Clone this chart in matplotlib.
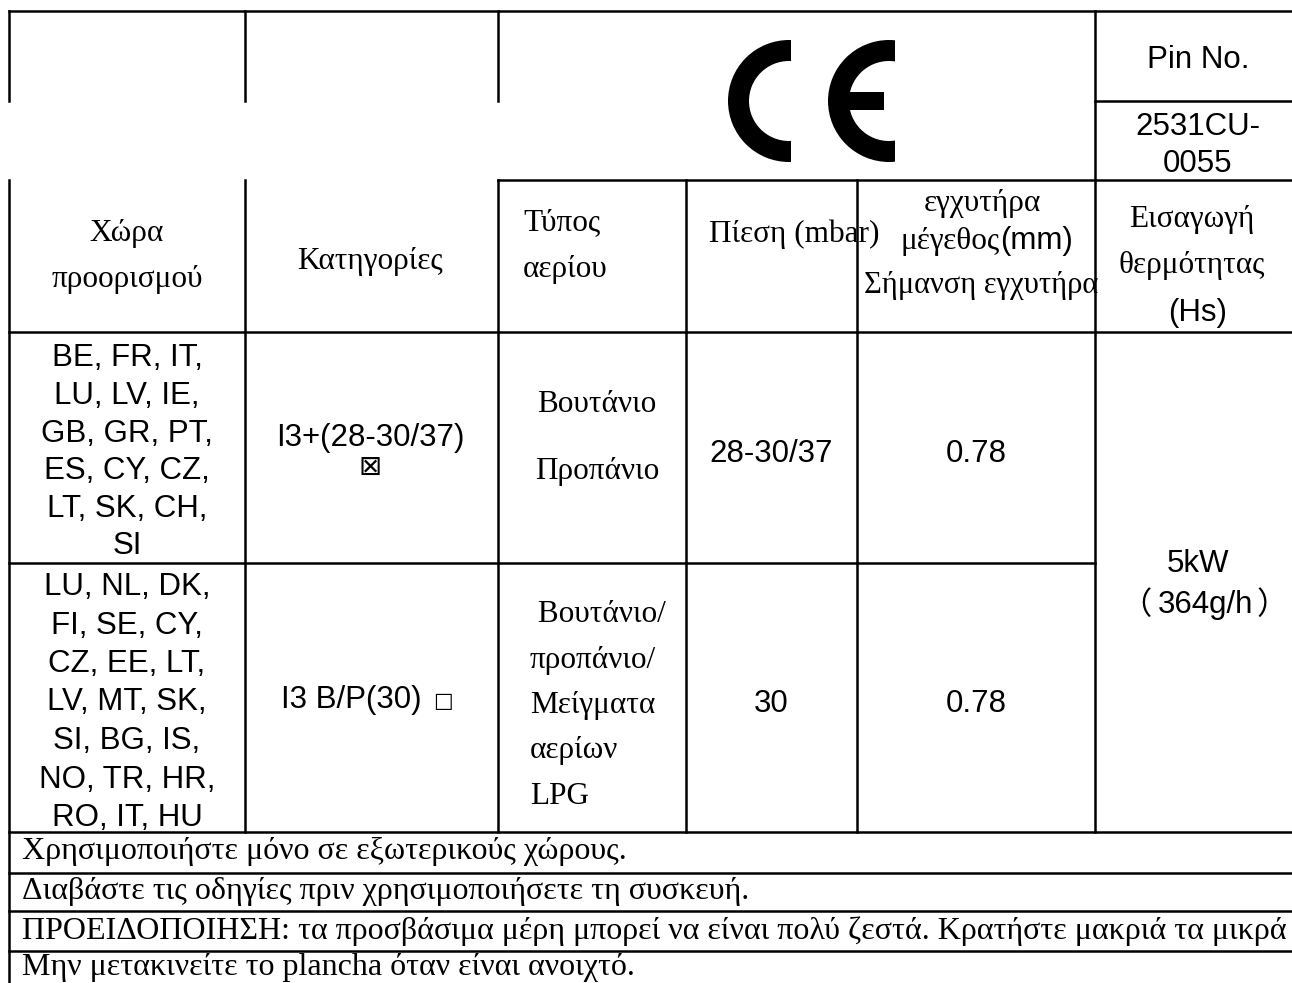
import matplotlib
matplotlib.use("Agg")
import matplotlib.pyplot as plt
from matplotlib.patches import Wedge, Rectangle

# table content
header_country = ["Χώρα", "προορισμού"]
header_category = "Κατηγορίες"
header_gas = ["Τύπος", "αερίου"]
header_pressure = "Πίεση (mbar)"
header_injector = ["εγχυτήρα", "μέγεθος", "(mm)", "Σήμανση εγχυτήρα"]
header_heat = ["Εισαγωγή", "θερμότητας", "(Hs)"]
pin_label = "Pin No."
pin_number = ["2531CU-", "0055"]

countries = [
    ["BE, FR, IT,", "LU, LV, IE,", "GB, GR, PT,", "ES, CY, CZ,", "LT, SK, CH,", "SI"],
    ["LU, NL, DK,", "FI, SE, CY,", "CZ, EE, LT,", "LV, MT, SK,", "SI, BG, IS,",
     "NO, TR, HR,", "RO, IT, HU"],
]
categories = ["I3+(28-30/37)", "I3 B/P(30)"]
category_marks = ["⊠", "□"]
gas_types = [["Βουτάνιο", "Προπάνιο"],
             [" Βουτάνιο/", "προπάνιο/", "Μείγματα", "αερίων", "LPG"]]
pressures = ["28-30/37", "30"]
injectors = ["0.78", "0.78"]
heat_power = "5kW"
heat_flow = "364g/h"

notes = [
    "Χρησιμοποιήστε μόνο σε εξωτερικούς χώρους.",
    "Διαβάστε τις οδηγίες πριν χρησιμοποιήσετε τη συσκευή.",
    "ΠΡΟΕΙΔΟΠΟΙΗΣΗ: τα προσβάσιμα μέρη μπορεί να είναι πολύ ζεστά. "
    "Κρατήστε μακριά τα μικρά παιδιά.",
    "Μην μετακινείτε το plancha όταν είναι ανοιχτό.",
]

SERIF = ["Liberation Serif", "DejaVu Serif"]
SANS = ["Liberation Sans", "Noto Sans CJK SC", "DejaVu Sans"]
CJK = ["Noto Sans CJK SC"]
MARKS = ["DejaVu Sans"]
FS = 22.5      # sans
FSS = 22.5     # serif (table)
FSN = 23       # serif (notes)
DY = 3         # baseline nudge

W, H = 1292, 983
fig = plt.figure(figsize=(W / 100, H / 100), dpi=100)
ax = fig.add_axes([0, 0, 1, 1])
ax.set_xlim(0, W)
ax.set_ylim(H, 0)
ax.axis("off")

# grid geometry (pixels)
cols = [9, 245, 498, 686, 857, 1095]
y_top, y_mid, y_hdr, y_row0, y_row1, y_row2 = 11, 101, 180, 332, 563, 832
note_lines = [873, 911, 951]
lw = 1.8


def hline(y, x0, x1):
    ax.plot([x0, x1], [y, y], color="black", lw=lw, solid_capstyle="projecting")


def vline(x, y0, y1):
    ax.plot([x, x], [y0, y1], color="black", lw=lw, solid_capstyle="projecting")


hline(y_top, cols[0], W)
hline(y_mid, cols[5], W)
hline(y_hdr, cols[2], W)
hline(y_row0, cols[0], W)
hline(y_row1, cols[0], cols[5])
hline(y_row2, cols[0], W)
for y in note_lines:
    hline(y, cols[0], W)

vline(cols[0], y_top, y_mid)
vline(cols[0], y_hdr, H)
for x in cols[1:3]:
    vline(x, y_top, y_mid)
    vline(x, y_hdr, y_row2)
for x in cols[3:5]:
    vline(x, y_hdr, y_row2)
vline(cols[5], y_top, y_row2)


def put(x, y, s, family, size=FS, ha="center"):
    ax.text(x, y + DY, s, family=family, fontsize=size, ha=ha, va="center")


def stack(x, y0, step, lines, family, ha="center", size=FS):
    for i, s in enumerate(lines):
        put(x, y0 + i * step, s, family, size, ha)


# CE mark
def ce_letter(cx, cy, r, w, cut):
    ring = Wedge((cx, cy), r, 0, 360, width=w, color="black", lw=0)
    ax.add_patch(ring)
    clip = Rectangle((cx - r - 5, cy - r - 5), cut - (cx - r - 5), 2 * r + 10,
                     transform=ax.transData)
    ring.set_clip_path(clip)


ce_letter(789, 101, 61, 21, 791)
ce_letter(889, 101, 61, 21, 895)
ax.add_patch(Rectangle((849, 92), 35, 18, color="black", lw=0))

# pin block
put(1198, 57, pin_label, SANS)
stack(1198, 124, 37, pin_number, SANS)

# header row
stack(127, 231, 46, header_country, SERIF, size=FSS)
put(370, 258, header_category, SERIF, FSS)
stack(523, 220, 46, header_gas, SERIF, ha="left", size=FSS)
put(709, 231, header_pressure, SERIF, FSS, ha="left")
put(982, 200, header_injector[0], SERIF, FSS)
put(1000, 238, header_injector[1], SERIF, FSS, ha="right")
put(1000, 238, header_injector[2], SANS, FS, ha="left")
put(981, 283, header_injector[3], SERIF, 22)
stack(1192, 216, 46, header_heat[:2], SERIF, size=FSS)
put(1198, 310, header_heat[2], SANS)

# data rows
row_spans = [(y_row0, y_row1), (y_row1, y_row2)]
country_step = [37.6, 38.5]
for i, (ya, yb) in enumerate(row_spans):
    yc = (ya + yb) / 2
    n = len(countries[i])
    stack(127, yc - (n - 1) * country_step[i] / 2 + 2, country_step[i], countries[i], SANS)
    put(771, yc + 3, pressures[i], SANS)
    put(976, yc + 3, injectors[i], SANS)

# category cells: mark below in row 1, inline small box in row 2
put(370, 435, categories[0], SANS)
put(370, 464, category_marks[0], MARKS, 20)
put(430, 697, categories[1] + " ", SANS, ha="right")
put(433, 698, category_marks[1], MARKS, 15, ha="left")

stack(597, 402, 66, gas_types[0], SERIF, size=FSS)
stack(530, 612, 45.3, gas_types[1], SERIF, ha="left", size=FSS)

# heat input cell (merged over both rows), fullwidth brackets
put(1198, 561, heat_power, SANS)
put(1205, 602, heat_flow, SANS)
put(1136, 602, "（", CJK, FS)
put(1272, 602, "）", CJK, FS)

# notes
note_y = [849, 888, 928, 964]
for y, s in zip(note_y, notes):
    put(22, y, s, SERIF, FSN, ha="left")

fig.savefig("out.png", dpi=100)
